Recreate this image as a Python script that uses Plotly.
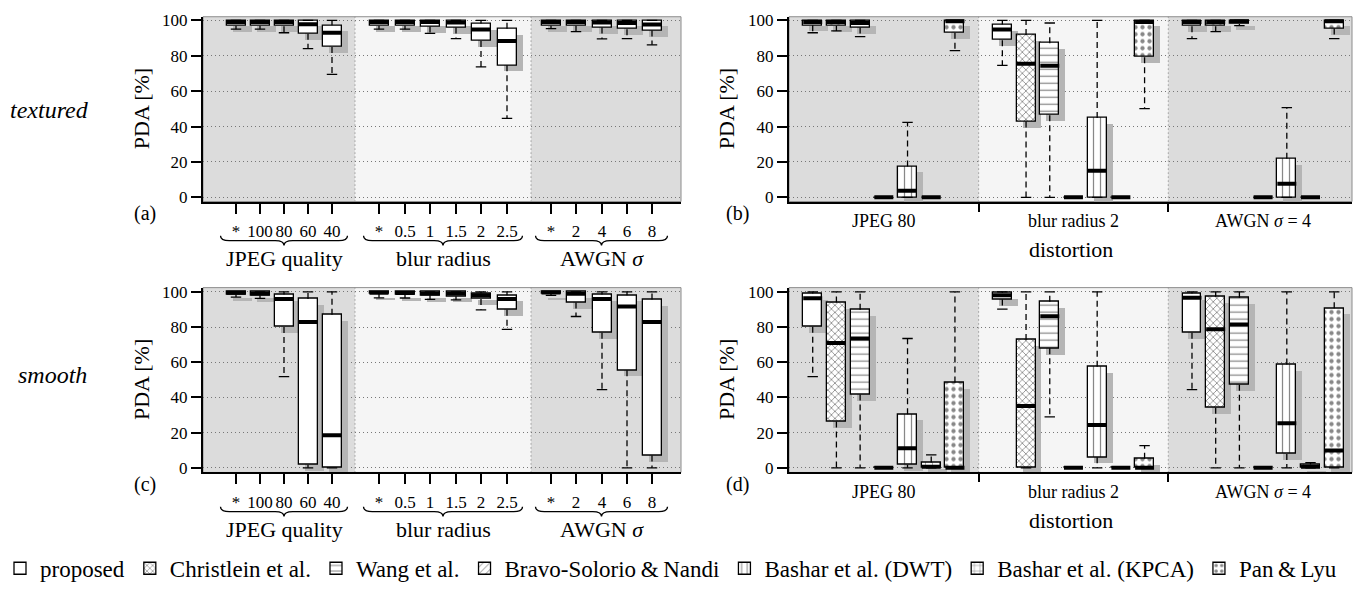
import plotly.graph_objects as go

# ---------------- data ----------------
COND_JPEG = ["*", "100", "80", "60", "40"]
COND_BLUR = ["*", "0.5", "1", "1.5", "2", "2.5"]
COND_AWGN = ["*", "2", "4", "6", "8"]
GROUP_LABELS = ["JPEG quality", "blur radius", "AWGN <i>σ</i>"]
DISTORTIONS = ["JPEG 80", "blur radius 2", "AWGN <i>σ</i> = 4"]
METHODS = ["proposed", "Christlein et al.", "Wang et al.", "Bravo-Solorio\u2009&\u2009Nandi",
           "Bashar et al. (DWT)", "Bashar et al. (KPCA)", "Pan\u2009&\u2009Lyu"]
Y_TICKS = [0, 20, 40, 60, 80, 100]

# (a) textured, proposed method, conditions JPEG | blur | AWGN
A_LW  = [95, 95, 93, 84, 69.5, 95, 95, 92.6, 89.7, 73.7, 44.6, 95.3, 93.6, 89.5, 89.7, 86.2]
A_Q1  = [97, 97, 96.7, 92.5, 85, 97, 97, 96.5, 96, 88.4, 74.6, 97, 97, 96, 95, 94.3]
A_MED = [99, 99, 99, 97.8, 93, 99, 99, 99, 98.8, 94.9, 88.4, 99, 99, 98.8, 98.5, 97.6]
A_Q3  = [100, 100, 100, 100, 97.2, 100, 100, 100, 100, 98.2, 95.2, 100, 100, 100, 100, 100]
A_UW  = [100, 100, 100, 100, 100, 100, 100, 100, 100, 100, 100, 100, 100, 100, 100, 100]

# (c) smooth, proposed method
C_LW  = [97, 96.3, 51.8, 0, 0, 96.6, 96.5, 95.7, 95.4, 89.8, 78.7, 98, 86, 44.4, 0, 0]
C_Q1  = [98.5, 98, 80, 1.8, 0, 98.8, 98.5, 98, 97.5, 95.9, 89.8, 99, 94, 76.8, 55.5, 7]
C_MED = [99.5, 99, 96, 82.8, 18.5, 99.5, 99.3, 99, 99, 98.1, 95.9, 99.6, 98.9, 96, 91.6, 82.8]
C_Q3  = [100, 100, 98.5, 95.9, 87, 100, 100, 100, 100, 99, 98.1, 100, 100, 98.5, 98.1, 95.7]
C_UW  = [100, 100, 100, 100, 100, 100, 100, 100, 100, 100, 100, 100, 100, 100, 100, 100]

# (b) textured, rows = methods, cols = distortions
B_LW  = [[93, 74.6, 89.7], [94, 0, 93.6], [90.8, 0, 97], [0, 0, 0], [0, 0, 0], [0, 0, 0], [82.9, 50.1, 89.7]]
B_Q1  = [[97.2, 88.8, 96.7], [97, 42.9, 96.7], [96, 46.4, 98], [0, 0, 0], [0, 0, 0], [0, 0, 0], [93, 79.2, 95.4]]
B_MED = [[99, 94.9, 99], [99, 75.5, 99], [98.5, 74.4, 99.5], [0, 0, 0], [3.7, 15.1, 7.7], [0, 0, 0], [99.5, 99, 99.5]]
B_Q3  = [[100, 97.6, 100], [100, 91.7, 100], [100, 87.1, 100], [0, 0, 0], [17.5, 44.8, 21.8], [0, 0, 0], [100, 100, 100]]
B_UW  = [[100, 100, 100], [100, 100, 100], [100, 98.5, 100], [0, 0, 0], [42.4, 100, 50.7], [0, 0, 0], [100, 100, 100]]

# (d) smooth
D_LW  = [[51.8, 90.2, 44.4], [0, 0, 0], [0, 29, 0], [0, 0, 0], [0, 0, 0], [0, 0, 0], [0, 0, 0]]
D_Q1  = [[80.2, 95.7, 76.8], [26.3, 0, 34.2], [41.7, 67.9, 47.2], [0, 0, 0], [1.8, 6.1, 7.9], [0, 0, 0], [0, 0, 0]]
D_MED = [[96.3, 98.1, 96.6], [70.9, 35.2, 78.7], [73.5, 86.1, 81.5], [0, 0, 0], [11.1, 24.4, 25.3], [0.7, 0, 0.7], [0, 0, 9.8]]
D_Q3  = [[99, 99.5, 99], [93.9, 72.7, 97.2], [89.8, 94.4, 96.6], [0, 0, 0], [30.5, 57.4, 58.7], [3.1, 0, 2], [48.5, 5.2, 90.7]]
D_UW  = [[100, 100, 100], [100, 100, 100], [100, 100, 100], [0, 0, 0], [73.5, 100, 100], [7.4, 0, 3], [100, 12.6, 100]]

# ---------------- layout constants ----------------
FONT = "Liberation Serif"
W, H = 1357, 590
DARK, LIGHT, SHADOW, GRID = "#dcdcdc", "#f5f5f5", "#b5b5b5", "#777777"
PATTERNS = ["", "x", "-", "/", "|", "+", "."]
PSIZE = [6, 5, 7, 6, 7, 7, 7]
PSOLID = [0.2, 0.3, 0.18, 0.2, 0.18, 0.18, 0.3]

COL_A = (203, 681)
COL_B = (789, 1352)
ROWS = [(12, 201), (289, 478)]
Y_RANGES = [[-2.38, 102.04], [-2.61, 102.39]]

POS_SINGLE = [1.32, 2.28, 3.24, 4.20, 5.16, 7.04, 8.08, 9.08, 10.12, 11.12, 12.16,
              13.92, 14.92, 15.96, 16.96, 17.96]
GROUP_IDX = [(0, 5), (5, 11), (11, 16)]
XR_SINGLE = [0, 19.12]
SEP_SINGLE = [6.08, 13.12]
XR_MULTI = [0, 23.75]
SEP_MULTI = [8, 16]
SEC_CENTERS = [4, 12, 20]


def multi_pos(m, d):
    return d * 8 + m + 1


fig = go.Figure()
shapes, annotations = [], []


def ann(text, x, y, xref="paper", size=22, angle=0):
    return dict(text=text, x=x, y=y, xref=xref, yref="paper", xanchor="center", yanchor="middle",
                showarrow=False, textangle=angle, font=dict(family=FONT, size=size, color="black"))


def add_boxes(xa, ya, items, bw, show_legend, multi):
    """items: list of (pos, lw, q1, med, q3, uw, method)"""
    dx = 0.25
    dy = 3.3
    cw = bw * 0.55
    keep = [it for it in items if it[4] - it[2] > 0]
    fig.add_trace(go.Bar(x=[it[0] + dx for it in keep], y=[it[4] - it[2] for it in keep],
                         base=[it[2] - dy for it in keep], width=bw, xaxis=xa, yaxis=ya,
                         marker=dict(color=SHADOW, line=dict(width=0)),
                         showlegend=False, hoverinfo="skip"))
    methods = range(7) if multi else [0]
    for m in methods:
        its = [it for it in items if it[6] == m]
        fig.add_trace(go.Bar(
            x=[it[0] for it in its], y=[it[4] - it[2] for it in its], base=[it[2] for it in its],
            width=bw, xaxis=xa, yaxis=ya, name=METHODS[m],
            marker=dict(color="white", line=dict(color="black", width=1.3),
                        pattern=dict(shape=PATTERNS[m], fgcolor="#111", bgcolor="white",
                                     size=PSIZE[m], solidity=PSOLID[m])),
            showlegend=show_legend, hoverinfo="skip"))
    wx, wy, cx, cy, mx, my = [], [], [], [], [], []
    for (p, lw, q1, med, q3, uw, m) in items:
        wx += [p, p, None, p, p, None]
        wy += [q3, uw, None, q1, lw, None]
        cx += [p - cw / 2, p + cw / 2, None, p - cw / 2, p + cw / 2, None]
        cy += [uw, uw, None, lw, lw, None]
        mx += [p - bw / 2, p + bw / 2, None]
        my += [med, med, None]
    fig.add_trace(go.Scatter(x=wx, y=wy, mode="lines", xaxis=xa, yaxis=ya,
                             line=dict(color="black", width=1.3, dash="6px,4px"),
                             showlegend=False, hoverinfo="skip"))
    fig.add_trace(go.Scatter(x=cx, y=cy, mode="lines", xaxis=xa, yaxis=ya,
                             line=dict(color="black", width=1.3),
                             showlegend=False, hoverinfo="skip"))
    fig.add_trace(go.Scatter(x=mx, y=my, mode="lines", xaxis=xa, yaxis=ya,
                             line=dict(color="black", width=4),
                             showlegend=False, hoverinfo="skip"))


def single_items(lw, q1, med, q3, uw):
    return [(POS_SINGLE[i], lw[i], q1[i], med[i], q3[i], uw[i], 0) for i in range(len(POS_SINGLE))]


def multi_items(lw, q1, med, q3, uw):
    out = []
    for m in range(7):
        for d in range(3):
            out.append((multi_pos(m, d), lw[m][d], q1[m][d], med[m][d], q3[m][d], uw[m][d], m))
    return out


panels = [
    ("x", "y", "single", 0, single_items(A_LW, A_Q1, A_MED, A_Q3, A_UW), "(a)"),
    ("x2", "y2", "multi", 0, multi_items(B_LW, B_Q1, B_MED, B_Q3, B_UW), "(b)"),
    ("x3", "y3", "single", 1, single_items(C_LW, C_Q1, C_MED, C_Q3, C_UW), "(c)"),
    ("x4", "y4", "multi", 1, multi_items(D_LW, D_Q1, D_MED, D_Q3, D_UW), "(d)"),
]

layout_axes = {}
for k, (xa, ya, kind, row, items, tag) in enumerate(panels):
    multi = kind == "multi"
    col = COL_B if multi else COL_A
    top, bot = ROWS[row]
    xname = "xaxis" + ("" if k == 0 else str(k + 1))
    yname = "yaxis" + ("" if k == 0 else str(k + 1))
    xr = XR_MULTI if multi else XR_SINGLE
    seps = SEP_MULTI if multi else SEP_SINGLE

    xcfg = dict(domain=[col[0] / W, col[1] / W], range=xr, anchor=ya,
                showline=True, linecolor="black", linewidth=2, showgrid=False, zeroline=False,
                ticks="outside", tickwidth=2, tickcolor="black", fixedrange=True,
                tickfont=dict(family=FONT, size=17, color="black"))
    if multi:
        xcfg.update(tickvals=seps, ticktext=["", ""], ticklen=8)
    else:
        xcfg.update(tickvals=POS_SINGLE, ticktext=COND_JPEG + COND_BLUR + COND_AWGN,
                    ticklen=10, ticklabelstandoff=3)
    layout_axes[xname] = xcfg
    layout_axes[yname] = dict(domain=[1 - bot / H, 1 - top / H], range=Y_RANGES[row], anchor=xa,
                              tickvals=Y_TICKS, ticks="outside", ticklen=10, tickwidth=2,
                              tickcolor="black", showline=True, linecolor="black", linewidth=2,
                              showgrid=True, gridcolor=GRID, griddash="1px,3px", gridwidth=1,
                              zeroline=False, fixedrange=True,
                              tickfont=dict(family=FONT, size=17, color="black"))

    # background sections
    shapes.append(dict(type="rect", xref=xa, yref=ya + " domain", x0=xr[0], x1=seps[0], y0=0, y1=1,
                       fillcolor=DARK, line=dict(width=0), layer="below"))
    shapes.append(dict(type="rect", xref=xa, yref=ya + " domain", x0=seps[1], x1=xr[1], y0=0, y1=1,
                       fillcolor=DARK, line=dict(width=0), layer="below"))
    for s in seps:
        shapes.append(dict(type="line", xref=xa, yref=ya + " domain", x0=s, x1=s, y0=0, y1=1,
                           line=dict(color=GRID, width=1, dash="1px,3px"), layer="below"))
    shapes.append(dict(type="rect", xref=xa + " domain", yref=ya + " domain", x0=0, x1=1, y0=0, y1=1,
                       line=dict(color="#8c8c8c", width=1), fillcolor="rgba(0,0,0,0)", layer="below"))

    add_boxes(xa, ya, items, 0.8 if multi else 0.76, show_legend=(k == 1), multi=multi)

    # panel tag
    annotations.append(ann(tag, (737 if multi else 145) / W, 1 - (bot + 12) / H, size=20))
    # y title
    annotations.append(ann("PDA [%]", (726 if multi else 141) / W, 1 - (top + bot) / 2 / H,
                           size=22, angle=-90))
    if multi:
        for c, lab in zip(SEC_CENTERS, DISTORTIONS):
            annotations.append(ann(lab, c, 1 - (bot + 20) / H, xref=xa, size=18))
        annotations.append(ann("distortion", (col[0] + col[1]) / 2 / W, 1 - (bot + 49) / H, size=22))
    else:
        r = 0.35
        yt, ym, yb = 1 - (bot + 35) / H, 1 - (bot + 40) / H, 1 - (bot + 45) / H
        for (i0, i1), lab in zip(GROUP_IDX, GROUP_LABELS):
            x0 = POS_SINGLE[i0] - 0.62
            x1 = POS_SINGLE[i1 - 1] + 0.62
            xc = (x0 + x1) / 2
            path = (f"M {x0},{yt} Q {x0},{ym} {x0 + r},{ym} L {xc - r},{ym} Q {xc},{ym} {xc},{yb} "
                    f"Q {xc},{ym} {xc + r},{ym} L {x1 - r},{ym} Q {x1},{ym} {x1},{yt}")
            shapes.append(dict(type="path", xref=xa, yref="paper", path=path,
                               line=dict(color="black", width=1.3)))
            annotations.append(ann(lab, xc, 1 - (bot + 58) / H, xref=xa, size=22))

annotations.append(ann("<i>textured</i>", 49 / W, 1 - 107 / H, size=24))
annotations.append(ann("<i>smooth</i>", 52 / W, 1 - 378 / H, size=24))

fig.update_layout(
    width=W, height=H, autosize=False,
    margin=dict(l=0, r=0, t=0, b=0),
    paper_bgcolor="white", plot_bgcolor=LIGHT,
    barmode="overlay", bargap=0,
    shapes=shapes, annotations=annotations,
    font=dict(family=FONT, color="black"),
    legend=dict(orientation="h", x=0.0, xanchor="left", y=1 - 576 / H, yanchor="middle",
                font=dict(family=FONT, size=23, color="black"), bgcolor="rgba(0,0,0,0)",
                itemwidth=30, traceorder="normal"),
    **layout_axes,
)

fig.write_html("out.html")
